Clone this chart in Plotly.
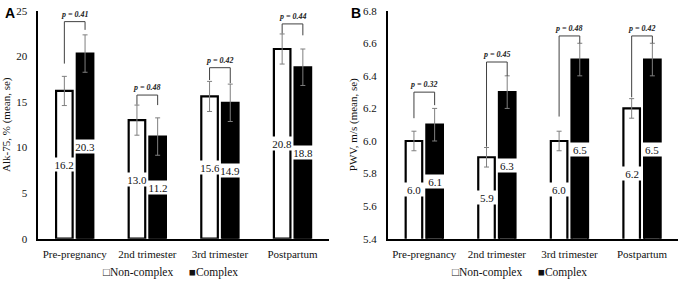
import plotly.graph_objects as go
from plotly.subplots import make_subplots

# ---------------- data ----------------
categories = ["Pre-pregnancy", "2nd trimester", "3rd trimester", "Postpartum"]
series_names = ["Non-complex", "Complex"]

alk_noncomplex = [16.2, 13.0, 15.6, 20.8]
alk_complex = [20.3, 11.2, 14.9, 18.8]
alk_noncomplex_se = [1.6, 1.65, 1.65, 1.65]
alk_complex_se = [2.05, 2.05, 2.05, 2.0]
alk_pvalues = ["0.41", "0.48", "0.42", "0.44"]

pwv_noncomplex = [6.0, 5.9, 6.0, 6.2]
pwv_complex = [6.1, 6.3, 6.5, 6.5]
pwv_noncomplex_se = [0.06, 0.06, 0.06, 0.06]
pwv_complex_se = [0.1, 0.1, 0.1, 0.1]
pwv_pvalues = ["0.32", "0.45", "0.48", "0.42"]

# bracket geometry (axis units): top level, left-leg end, right-leg end
alk_bracket_top = [23.8, 15.75, 18.75, 23.55]
alk_bracket_left = [19.2, 14.7, 17.4, 22.5]
alk_bracket_right = [22.9, 14.65, 17.05, 22.3]
pwv_bracket_top = [6.30, 6.485, 6.645, 6.645]
pwv_bracket_left = [6.14, 5.965, 6.15, 6.268]
pwv_bracket_right = [6.22, 6.40, 6.60, 6.60]

# ---------------- style ----------------
SERIF = "Liberation Serif"
SANS = "Liberation Sans"
W, H = 680, 284
BARGAP = 0.43
GROUPGAP = 0.2
OFF = (1 - BARGAP) / 4  # bar-centre offset from category centre, in category units
ERR_COLOR = "#7f7f7f"
BRACKET_COLOR = "#404040"
TXT = "#111111"

ybot = (H - 238.7) / H
ytop = (H - 10.7) / H

fig = make_subplots(rows=1, cols=2)

panels = [
    dict(nc=alk_noncomplex, c=alk_complex, nse=alk_noncomplex_se, cse=alk_complex_se,
         p=alk_pvalues, bt=alk_bracket_top, bl=alk_bracket_left, br=alk_bracket_right,
         xa="x", ya="y", ymin=0, legend_x=(101, 187)),
    dict(nc=pwv_noncomplex, c=pwv_complex, nse=pwv_noncomplex_se, cse=pwv_complex_se,
         p=pwv_pvalues, bt=pwv_bracket_top, bl=pwv_bracket_left, br=pwv_bracket_right,
         xa="x2", ya="y2", ymin=5.4, legend_x=(450, 536)),
]

for col, pn in enumerate(panels, start=1):
    fig.add_trace(go.Bar(
        x=categories, y=pn["nc"], name=series_names[0], showlegend=False,
        marker=dict(color="white", line=dict(color="black", width=2.2)),
        error_y=dict(type="data", array=pn["nse"], color=ERR_COLOR, thickness=1, width=2.5),
    ), row=1, col=col)
    fig.add_trace(go.Bar(
        x=categories, y=pn["c"], name=series_names[1], showlegend=False,
        marker=dict(color="black", line=dict(color="black", width=2.2)),
        error_y=dict(type="data", array=pn["cse"], color=ERR_COLOR, thickness=1, width=2.5),
    ), row=1, col=col)

    for i in range(len(categories)):
        # value labels (white boxes centred inside the bars)
        for sign, vals in ((-1, pn["nc"]), (1, pn["c"])):
            fig.add_annotation(
                x=i + sign * OFF, y=(pn["ymin"] + vals[i]) / 2, xref=pn["xa"], yref=pn["ya"],
                text="{:.1f}".format(vals[i]), showarrow=False, bgcolor="white",
                width=20, height=13, borderpad=0, yanchor="middle",
                font=dict(family=SERIF, size=11, color=TXT),
            )
        # significance bracket
        xl, xr = i - OFF, i + OFF
        line = dict(color=BRACKET_COLOR, width=1)
        fig.add_shape(type="line", xref=pn["xa"], yref=pn["ya"], x0=xl, x1=xl,
                      y0=pn["bl"][i], y1=pn["bt"][i], line=line)
        fig.add_shape(type="line", xref=pn["xa"], yref=pn["ya"], x0=xl, x1=xr,
                      y0=pn["bt"][i], y1=pn["bt"][i], line=line)
        fig.add_shape(type="line", xref=pn["xa"], yref=pn["ya"], x0=xr, x1=xr,
                      y0=pn["br"][i], y1=pn["bt"][i], line=line)
        fig.add_annotation(
            x=i, y=pn["bt"][i], xref=pn["xa"], yref=pn["ya"], showarrow=False,
            text="<b><i>p = " + pn["p"][i] + "</i></b>", yanchor="bottom", yshift=1,
            font=dict(family=SERIF, size=8, color="#222222"),
        )

    # legend (compact, Excel-like)
    for sym, name, lx in (("□", series_names[0], pn["legend_x"][0]),
                          ("■", series_names[1], pn["legend_x"][1])):
        fig.add_annotation(
            x=lx / W, y=(H - 272) / H, xref="paper", yref="paper", showarrow=False,
            xanchor="left", yanchor="middle", text=sym + name,
            font=dict(family=SERIF, size=11.5, color=TXT),
        )

axis_common = dict(showline=True, linecolor="black", linewidth=2, showgrid=False,
                   zeroline=False, ticks="", automargin=False,
                   tickfont=dict(family=SERIF, size=11, color=TXT))

fig.update_xaxes(**axis_common, type="category", range=[-0.5, 3.5], ticklabelstandoff=4)
fig.update_yaxes(**axis_common, ticklabelstandoff=7)

fig.update_layout(
    width=W, height=H,
    margin=dict(l=0, r=0, t=0, b=0, autoexpand=False),
    paper_bgcolor="white", plot_bgcolor="white",
    barmode="group", bargap=BARGAP, bargroupgap=GROUPGAP,
    xaxis=dict(domain=[38.4 / W, 328.8 / W]),
    xaxis2=dict(domain=[388.0 / W, 678.3 / W]),
    yaxis=dict(domain=[ybot, ytop], range=[0, 25], dtick=5,
               title=dict(text="Alk-75, % (mean, se)", standoff=3,
                          font=dict(family=SERIF, size=11, color=TXT))),
    yaxis2=dict(domain=[ybot, ytop], range=[5.4, 6.8], dtick=0.2, tickformat=".1f",
                title=dict(text="PWV, m/s (mean, se)", standoff=3,
                           font=dict(family=SERIF, size=11, color=TXT))),
    showlegend=False,
)

# panel letters
for letter, px in (("A", 3), ("B", 349)):
    fig.add_annotation(x=px / W, y=1 - 3 / H, xref="paper", yref="paper", text="<b>" + letter + "</b>",
                       showarrow=False, xanchor="left", yanchor="top",
                       font=dict(family=SANS, size=14, color="black"))

fig.write_html("out.html", config={"displayModeBar": False},
               post_script="document.body.style.margin='0px';document.body.style.overflow='hidden';")
